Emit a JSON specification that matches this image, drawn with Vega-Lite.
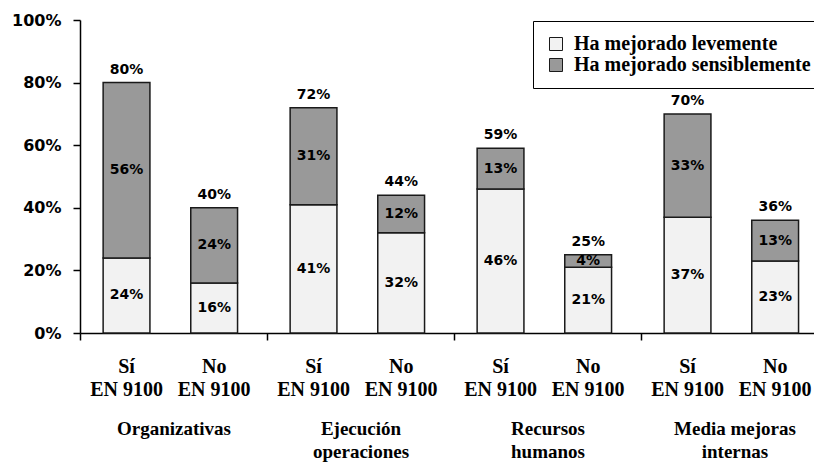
{
  "$schema": "https://vega.github.io/schema/vega-lite/v6.json",
  "autosize": {"type": "none"},
  "width": 734,
  "height": 313,
  "padding": {"left": 80, "top": 20, "right": 0, "bottom": 129},
  "background": "white",
  "config": {
    "view": {"stroke": null},
    "axis": {"grid": false, "domainColor": "#000000", "tickColor": "#000000", "labelColor": "#000000"}
  },
  "datasets": {
    "mejoras": [
      {"grupo": "Organizativas", "sub": "Sí", "serie": "Ha mejorado levemente", "valor": 24},
      {"grupo": "Organizativas", "sub": "Sí", "serie": "Ha mejorado sensiblemente", "valor": 56},
      {"grupo": "Organizativas", "sub": "No", "serie": "Ha mejorado levemente", "valor": 16},
      {"grupo": "Organizativas", "sub": "No", "serie": "Ha mejorado sensiblemente", "valor": 24},
      {"grupo": "Ejecución|operaciones", "sub": "Sí", "serie": "Ha mejorado levemente", "valor": 41},
      {"grupo": "Ejecución|operaciones", "sub": "Sí", "serie": "Ha mejorado sensiblemente", "valor": 31},
      {"grupo": "Ejecución|operaciones", "sub": "No", "serie": "Ha mejorado levemente", "valor": 32},
      {"grupo": "Ejecución|operaciones", "sub": "No", "serie": "Ha mejorado sensiblemente", "valor": 12},
      {"grupo": "Recursos|humanos", "sub": "Sí", "serie": "Ha mejorado levemente", "valor": 46},
      {"grupo": "Recursos|humanos", "sub": "Sí", "serie": "Ha mejorado sensiblemente", "valor": 13},
      {"grupo": "Recursos|humanos", "sub": "No", "serie": "Ha mejorado levemente", "valor": 21},
      {"grupo": "Recursos|humanos", "sub": "No", "serie": "Ha mejorado sensiblemente", "valor": 4},
      {"grupo": "Media mejoras|internas", "sub": "Sí", "serie": "Ha mejorado levemente", "valor": 37},
      {"grupo": "Media mejoras|internas", "sub": "Sí", "serie": "Ha mejorado sensiblemente", "valor": 33},
      {"grupo": "Media mejoras|internas", "sub": "No", "serie": "Ha mejorado levemente", "valor": 23},
      {"grupo": "Media mejoras|internas", "sub": "No", "serie": "Ha mejorado sensiblemente", "valor": 13}
    ],
    "etiquetas": [
      {"grupo": "Organizativas", "sub": "Sí", "texto": "Sí\nEN 9100"},
      {"grupo": "Organizativas", "sub": "No", "texto": "No\nEN 9100"},
      {"grupo": "Ejecución|operaciones", "sub": "Sí", "texto": "Sí\nEN 9100"},
      {"grupo": "Ejecución|operaciones", "sub": "No", "texto": "No\nEN 9100"},
      {"grupo": "Recursos|humanos", "sub": "Sí", "texto": "Sí\nEN 9100"},
      {"grupo": "Recursos|humanos", "sub": "No", "texto": "No\nEN 9100"},
      {"grupo": "Media mejoras|internas", "sub": "Sí", "texto": "Sí\nEN 9100"},
      {"grupo": "Media mejoras|internas", "sub": "No", "texto": "No\nEN 9100"}
    ]
  },
  "encoding": {
    "x": {
      "field": "grupo", "type": "nominal", "sort": null,
      "scale": {"range": [0, 748], "paddingInner": 0, "paddingOuter": 0},
      "axis": {
        "title": null, "labelAngle": 0, "tickBand": "extent", "tickSize": 7,
        "labelPadding": 79, "labelFont": "Liberation Serif", "labelFontWeight": "bold",
        "labelFontSize": 19, "labelLineHeight": 23, "labelBaseline": "top",
        "labelExpr": "split(datum.label, '|')", "domainWidth": 1.5, "tickWidth": 1.5
      }
    },
    "xOffset": {
      "field": "sub", "type": "nominal", "sort": ["Sí", "No"],
      "scale": {"paddingInner": 0.466, "paddingOuter": 0.3, "align": 0.44}
    }
  },
  "layer": [
    {
      "data": {"name": "mejoras"},
      "mark": {"type": "bar", "stroke": "#1a1a1a", "strokeWidth": 1.5},
      "encoding": {
        "y": {
          "field": "valor", "type": "quantitative", "stack": "zero",
          "scale": {"domain": [0, 100], "nice": false},
          "axis": {
            "title": null, "values": [0, 20, 40, 60, 80, 100], "tickSize": 7,
            "labelExpr": "datum.value + '%'", "labelFont": "DejaVu Sans",
            "labelFontWeight": "bold", "labelFontSize": 16, "labelPadding": 12,
            "domainWidth": 1.5, "tickWidth": 1.5
          }
        },
        "order": {"field": "serie", "sort": "ascending"},
        "color": {
          "field": "serie", "type": "nominal",
          "scale": {"domain": ["Ha mejorado levemente", "Ha mejorado sensiblemente"], "range": ["#f2f2f2", "#999999"]},
          "legend": {
            "title": null, "orient": "none", "legendX": 453, "legendY": 1,
            "fillColor": "white", "strokeColor": "#000000", "padding": 13,
            "symbolType": "square", "symbolSize": 169, "symbolStrokeColor": "#1a1a1a",
            "symbolStrokeWidth": 1, "labelFont": "Liberation Serif", "labelFontWeight": "bold",
            "labelFontSize": 20, "labelColor": "#000000", "rowPadding": 1, "labelOffset": 8,
            "labelLimit": 400
          }
        }
      }
    },
    {
      "data": {"name": "mejoras"},
      "transform": [
        {"stack": "valor", "groupby": ["grupo", "sub"], "sort": [{"field": "serie"}], "as": ["v0", "v1"]},
        {"calculate": "(datum.v0 + datum.v1) / 2", "as": "medio"},
        {"calculate": "datum.valor + '%'", "as": "etiqueta"}
      ],
      "mark": {"type": "text", "font": "DejaVu Sans", "fontWeight": "bold", "fontSize": 14, "color": "#000000", "baseline": "middle"},
      "encoding": {
        "y": {"field": "medio", "type": "quantitative"},
        "text": {"field": "etiqueta"},
        "detail": {"field": "serie"}
      }
    },
    {
      "data": {"name": "mejoras"},
      "transform": [
        {"aggregate": [{"op": "sum", "field": "valor", "as": "total"}], "groupby": ["grupo", "sub"]},
        {"calculate": "datum.total + '%'", "as": "etiqueta"}
      ],
      "mark": {"type": "text", "font": "DejaVu Sans", "fontWeight": "bold", "fontSize": 14, "color": "#000000", "baseline": "alphabetic", "dy": -9},
      "encoding": {
        "y": {"field": "total", "type": "quantitative"},
        "text": {"field": "etiqueta"}
      }
    },
    {
      "data": {"name": "etiquetas"},
      "mark": {"type": "text", "font": "Liberation Serif", "fontWeight": "bold", "fontSize": 20, "color": "#000000", "baseline": "top", "lineBreak": "\n", "lineHeight": 23, "dy": 24},
      "encoding": {
        "y": {"datum": 0, "type": "quantitative"},
        "text": {"field": "texto"}
      }
    }
  ]
}
